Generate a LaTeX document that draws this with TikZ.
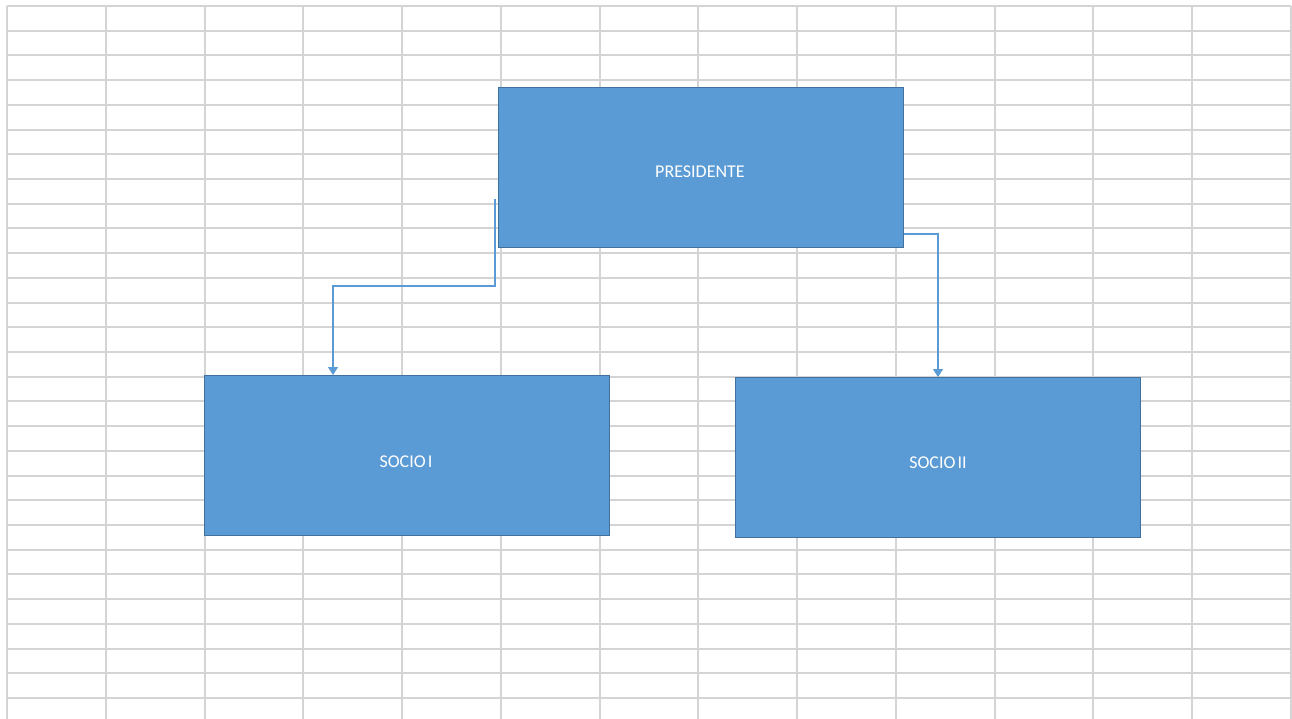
\documentclass[tikz,border=0pt]{standalone}
\usepackage{fontspec}
\setmainfont{Carlito}
\usetikzlibrary{arrows.meta}
\definecolor{gridgray}{HTML}{D4D4D4}
\definecolor{boxfill}{HTML}{5B9BD5}
\definecolor{boxline}{HTML}{41719C}
\definecolor{connblue}{HTML}{5B9BD5}
\tikzset{
  orgbox/.style={draw=boxline, line width=1pt, fill=boxfill, minimum width=405pt, minimum height=160pt, inner sep=0pt},
  lbl/.style={text=white, font=\fontsize{18}{21}\selectfont, inner sep=0pt},
  conn/.style={draw=connblue, line width=1.1pt, -{Triangle[width=10pt,length=8pt]}},
  gridline/.style={draw=gridgray, line width=2pt}
}
\begin{document}
\begin{tikzpicture}[x=1pt,y=-1pt]
\useasboundingbox (0,0) rectangle (1292,719);
\fill[white] (0,0) rectangle (1292,719);
% grid
\foreach \i in {0,...,28} {
  \draw[gridline] (7,{6+\i*24.714}) -- (1291,{6+\i*24.714});
}
\foreach \j in {0,...,13} {
  \draw[gridline] ({7+\j*98.77},6) -- ({7+\j*98.77},719);
}
% boxes
\node[orgbox] (pres) at (700.5,168) {};
\node[orgbox] (s1) at (406.5,455.5) {};
\node[orgbox] (s2) at (938,457.5) {};
\node[lbl] (tpres) at (700,172) {PRESIDENTE};
\node[lbl] (ts1) at (406,462) {SOCIO\hspace{0.12em}I};
\node[lbl] (ts2) at (938,463) {SOCIO\hspace{0.12em}II};
% connectors
\coordinate (c1) at (495,199);
\coordinate (k1) at (333,286);
\coordinate (c2) at (903,234);
\draw[conn] (c1) |- (k1) -- (k1 |- s1.north);
\draw[conn] (pres.east |- c2) -| (s2.north);
\end{tikzpicture}
\end{document}
